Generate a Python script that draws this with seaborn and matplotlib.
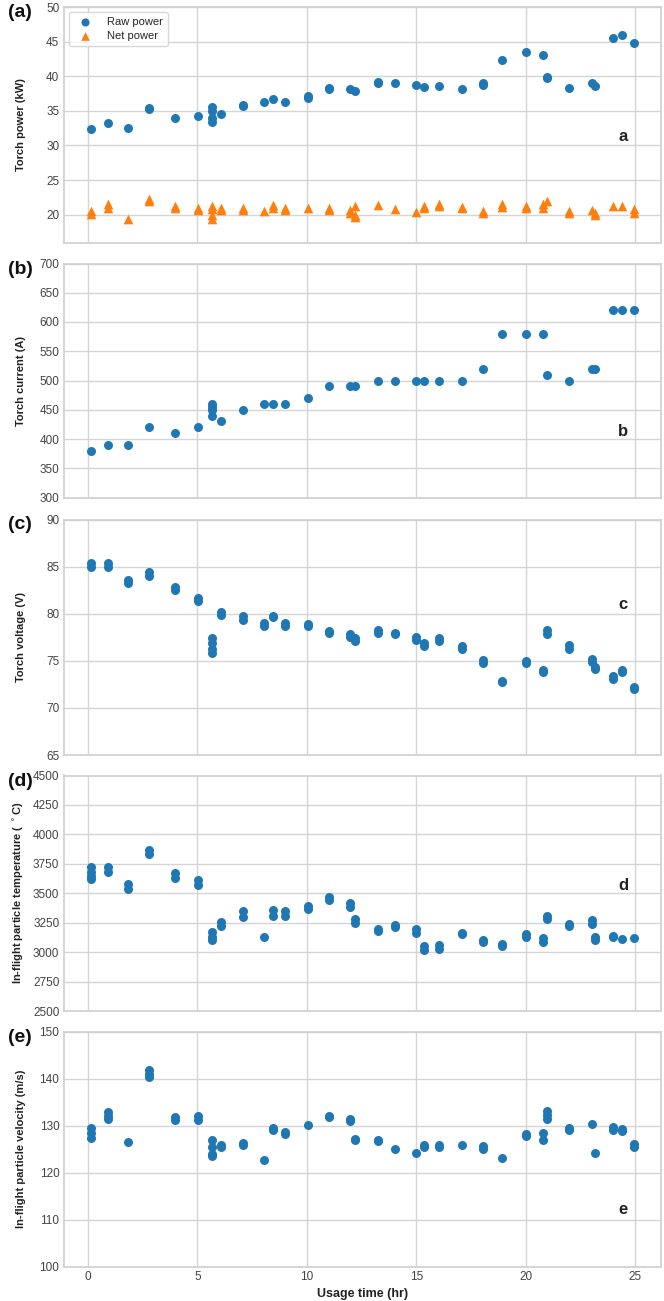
import numpy as np
import pandas as pd
import matplotlib
matplotlib.use("Agg")
import matplotlib.pyplot as plt
import seaborn as sns

# ---------------- data ----------------
times = [0.12, 0.89, 1.82, 2.77, 3.98, 5.01, 5.68, 6.07, 7.06, 8.02, 8.47, 9.01,
         10.05, 11.0, 11.97, 12.2, 13.24, 14.02, 15.0, 15.35, 16.05, 17.07, 18.04,
         18.9, 20.01, 20.77, 20.96, 22.0, 23.01, 23.16, 24.01, 24.42, 24.94]

raw_power = [[32.4], [33.2], [32.55], [35.4, 35.3], [33.9], [34.3],
             [35.55, 35.0, 34.0, 33.4], [34.5], [35.85, 35.7], [36.3], [36.7], [36.3],
             [37.1, 36.9], [38.3, 38.1], [38.1], [37.8], [39.2, 39.0], [39.0], [38.75],
             [38.4], [38.65], [38.2], [39.0, 38.8], [42.3], [43.5], [43.0], [39.9, 39.7],
             [38.3], [39.05], [38.65], [45.5], [45.9], [44.8]]

net_power = [[20.5, 20.1], [21.5, 20.9], [19.3], [22.2, 22.0], [21.2, 20.9], [20.9, 20.6],
             [21.2, 20.8, 20.0, 19.4], [21.0, 20.6], [20.9, 20.6], [20.5], [21.4, 20.9],
             [20.9, 20.6], [20.9], [21.0, 20.7], [20.6, 20.3], [21.3, 20.0, 19.7], [21.4],
             [20.8], [20.4], [21.3, 21.0], [21.5, 21.2], [21.1, 20.9], [20.5, 20.2],
             [21.5, 21.1], [21.3, 21.0], [21.5, 21.0], [21.9], [20.5, 20.2], [20.6],
             [20.3, 19.9], [21.3], [21.2], [20.8, 20.3]]

current = [[380], [390], [390], [420], [410], [420], [460, 455, 450, 440], [430], [450],
           [460], [460], [460], [470], [490], [490], [490], [500], [500], [500], [500],
           [500], [500], [520], [580], [580], [580], [510], [500], [520], [520], [620],
           [620], [620]]

voltage = [[85.4, 85.0], [85.4, 85.0], [83.6, 83.3], [84.4, 84.0], [82.8, 82.5],
           [81.7, 81.3], [77.4, 76.9, 76.3, 75.8], [80.2, 79.9], [79.8, 79.3],
           [79.0, 78.7], [79.8, 79.6], [79.0, 78.7], [78.9, 78.7], [78.2, 77.9],
           [77.8, 77.5], [77.4, 77.1], [78.3, 78.0], [77.9, 77.8], [77.5, 77.2],
           [76.9, 76.6], [77.4, 77.1], [76.6, 76.3], [75.1, 74.8], [72.9, 72.7],
           [75.0, 74.8], [74.0, 73.8], [78.3, 77.8], [76.7, 76.3], [75.2, 74.9],
           [74.3, 74.1], [73.4, 73.1], [74.0, 73.8], [72.2, 72.0]]

temperature = [[3720, 3680, 3650, 3620], [3720, 3680], [3580, 3540], [3870, 3830],
               [3670, 3630], [3610, 3570], [3170, 3130, 3100], [3260, 3220],
               [3350, 3300], [3130], [3360, 3310], [3350, 3310], [3390, 3370],
               [3470, 3440], [3420, 3380], [3280, 3250], [3200, 3180], [3230, 3210],
               [3200, 3160], [3050, 3020], [3060, 3030], [3160, 3150], [3100, 3090],
               [3070, 3050], [3150, 3130], [3120, 3090], [3310, 3280], [3240, 3220],
               [3270, 3240], [3130, 3100], [3140, 3130], [3110], [3120]]

velocity = [[129.5, 128.5, 127.5], [133.0, 132.0, 131.4], [126.6], [142.0, 141.0, 140.3],
            [131.8, 131.2], [132.0, 131.2], [127.0, 125.5, 124.0, 123.5], [125.9, 125.4],
            [126.4, 125.9], [122.7], [129.6, 129.1], [128.7, 128.2], [130.2],
            [132.0, 131.8], [131.5, 131.1], [127.2, 127.0], [127.0, 126.8], [125.1],
            [124.1], [125.9, 125.4], [125.9, 125.5], [125.8], [125.7, 125.0], [123.2],
            [128.2, 127.8], [128.5, 127.0], [133.2, 132.2, 131.4], [129.5, 129.2],
            [130.3], [124.1], [129.7, 129.2], [129.3, 128.9], [126.1, 125.5]]

x_ticks = [0, 5, 10, 15, 20, 25]


def expand(vals):
    xs, ys = [], []
    for t, reps in zip(times, vals):
        for v in reps:
            xs.append(t)
            ys.append(v)
    return pd.DataFrame({"time": xs, "value": ys})


# ---------------- style ----------------
sns.set_theme(style="whitegrid")
plt.rcParams["font.family"] = ["Liberation Sans", "DejaVu Sans"]
plt.rcParams["axes.edgecolor"] = "#d0d0d0"
plt.rcParams["grid.color"] = "#d5d5d5"

BLUE = "#1f77b4"
ORANGE = "#ff7f0e"

fig = plt.figure(figsize=(6.64, 13.01), dpi=100)
W, H = 664, 1301
left_px, right_px = 63.5, 661.0
tops = [7, 263.5, 519.5, 775.5, 1032]
bots = [243, 497.5, 755, 1011, 1266.5]

panels = [
    dict(tag="(a)", letter="a", ly=0.45, ylabel="Torch power (kW)", ylim=(15.9, 50),
         yticks=[20, 25, 30, 35, 40, 45, 50]),
    dict(tag="(b)", letter="b", ly=0.283, ylabel="Torch current (A)", ylim=(300, 700),
         yticks=list(range(300, 701, 50)), data=current),
    dict(tag="(c)", letter="c", ly=0.64, ylabel="Torch voltage (V)", ylim=(65, 90),
         yticks=list(range(65, 91, 5)), data=voltage),
    dict(tag="(d)", letter="d", ly=0.533,
         ylabel="In-flight particle temperature ( $^\\circ$C)", ylim=(2500, 4500),
         yticks=list(range(2500, 4501, 250)), data=temperature),
    dict(tag="(e)", letter="e", ly=0.241, ylabel="In-flight particle velocity (m/s)",
         ylim=(100, 150), yticks=list(range(100, 151, 10)), data=velocity),
]

axes = []
for i, p in enumerate(panels):
    rect = [left_px / W, 1 - bots[i] / H, (right_px - left_px) / W, (bots[i] - tops[i]) / H]
    ax = fig.add_axes(rect, sharex=axes[0] if axes else None)
    axes.append(ax)
    if i == 0:
        d1 = expand(raw_power)
        d2 = expand(net_power)
        sns.scatterplot(data=d1, x="time", y="value", ax=ax, color=BLUE, s=42,
                        linewidth=0, marker="o", label="Raw power")
        sns.scatterplot(data=d2, x="time", y="value", ax=ax, color=ORANGE, s=48,
                        linewidth=0, marker="^", label="Net power")
        leg = ax.legend(loc="upper left", fontsize=8, frameon=True, borderpad=0.45,
                        handletextpad=1.0, labelspacing=0.35, markerscale=0.9,
                        borderaxespad=0.45)
        leg.get_frame().set_edgecolor("#d0d0d0")
    else:
        d = expand(p["data"])
        sns.scatterplot(data=d, x="time", y="value", ax=ax, color=BLUE, s=42,
                        linewidth=0, marker="o")
    ax.set_ylim(*p["ylim"])
    ax.set_yticks(p["yticks"])
    ax.set_xticks(x_ticks)
    ax.set_ylabel(p["ylabel"], fontsize=8, fontweight="bold", color="#222222")
    ax.yaxis.set_label_coords(-0.063, 0.5)
    ax.tick_params(axis="both", labelsize=8.5, colors="#444444", length=0, pad=3)
    ax.set_xlabel("")
    if i < 4:
        ax.tick_params(axis="x", labelbottom=False)
    ax.text(0.937, p["ly"], p["letter"], transform=ax.transAxes, fontsize=12,
            fontweight="bold", ha="center", va="center", color="#222222")
    fig.text(8 / W, 1 - (tops[i] - 3) / H, p["tag"], fontsize=14, fontweight="bold",
             ha="left", va="top", color="#111111")

axes[-1].set_xlabel("Usage time (hr)", fontsize=9, fontweight="bold", color="#222222")

fig.savefig("out.png", dpi=100)
